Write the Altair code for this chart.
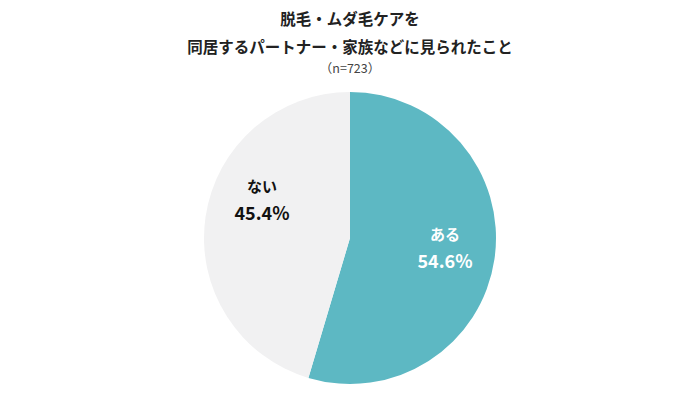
import altair as alt
import pandas as pd

categories = ["ある", "ない"]
values = [54.6, 45.4]
pct_labels = ["54.6%", "45.4%"]
title_lines = ["脱毛・ムダ毛ケアを", "同居するパートナー・家族などに見られたこと"]
subtitle = "（n=723）"
colors = ["#5db8c3", "#f1f1f2"]

df = pd.DataFrame({"cat": categories, "val": values, "order": [0, 1], "pct": pct_labels})

FONT = "Noto Sans CJK JP"
CX, CY, R = 342, 230, 146

pie = alt.Chart(df).mark_arc(outerRadius=R).encode(
    theta=alt.Theta("val:Q", stack=True),
    order=alt.Order("order:Q"),
    color=alt.Color("cat:N", scale=alt.Scale(domain=categories, range=colors), legend=None),
    x=alt.value(CX),
    y=alt.value(CY),
)

def label(cat, x, y, color):
    base = alt.Chart(df).transform_filter(alt.datum.cat == cat)
    t1 = base.mark_text(font=FONT, fontSize=15, fontWeight="bold", color=color).encode(
        text="cat:N", x=alt.value(x), y=alt.value(y - 13))
    t2 = base.mark_text(font=FONT, fontSize=18, fontWeight="bold", color=color).encode(
        text="pct:N", x=alt.value(x), y=alt.value(y + 15))
    return t1 + t2

lab_yes = label("ある", 437, 240, "#ffffff")
lab_no = label("ない", 254, 192, "#111111")

tdf = pd.DataFrame({"t": [title_lines[0], title_lines[1], subtitle], "i": [0, 1, 2]})
t_a = alt.Chart(tdf).transform_filter(alt.datum.i == 0).mark_text(
    font=FONT, fontSize=15.5, fontWeight="bold", color="#222222", baseline="top").encode(
    text="t:N", x=alt.value(CX), y=alt.value(5))
t_b = alt.Chart(tdf).transform_filter(alt.datum.i == 1).mark_text(
    font=FONT, fontSize=15.5, fontWeight="bold", color="#222222", baseline="top").encode(
    text="t:N", x=alt.value(CX), y=alt.value(33))
t_c = alt.Chart(tdf).transform_filter(alt.datum.i == 2).mark_text(
    font=FONT, fontSize=12.5, color="#444444").encode(
    text="t:N", x=alt.value(CX), y=alt.value(61))

chart = alt.layer(pie, lab_yes, lab_no, t_a, t_b, t_c).properties(
    width=684, height=377, autosize=alt.AutoSizeParams(type="none"), padding=0
).configure(background="#ffffff", view=alt.ViewConfig(stroke="transparent"))

chart.save("out.html", embed_options={"renderer": "svg", "actions": False})
